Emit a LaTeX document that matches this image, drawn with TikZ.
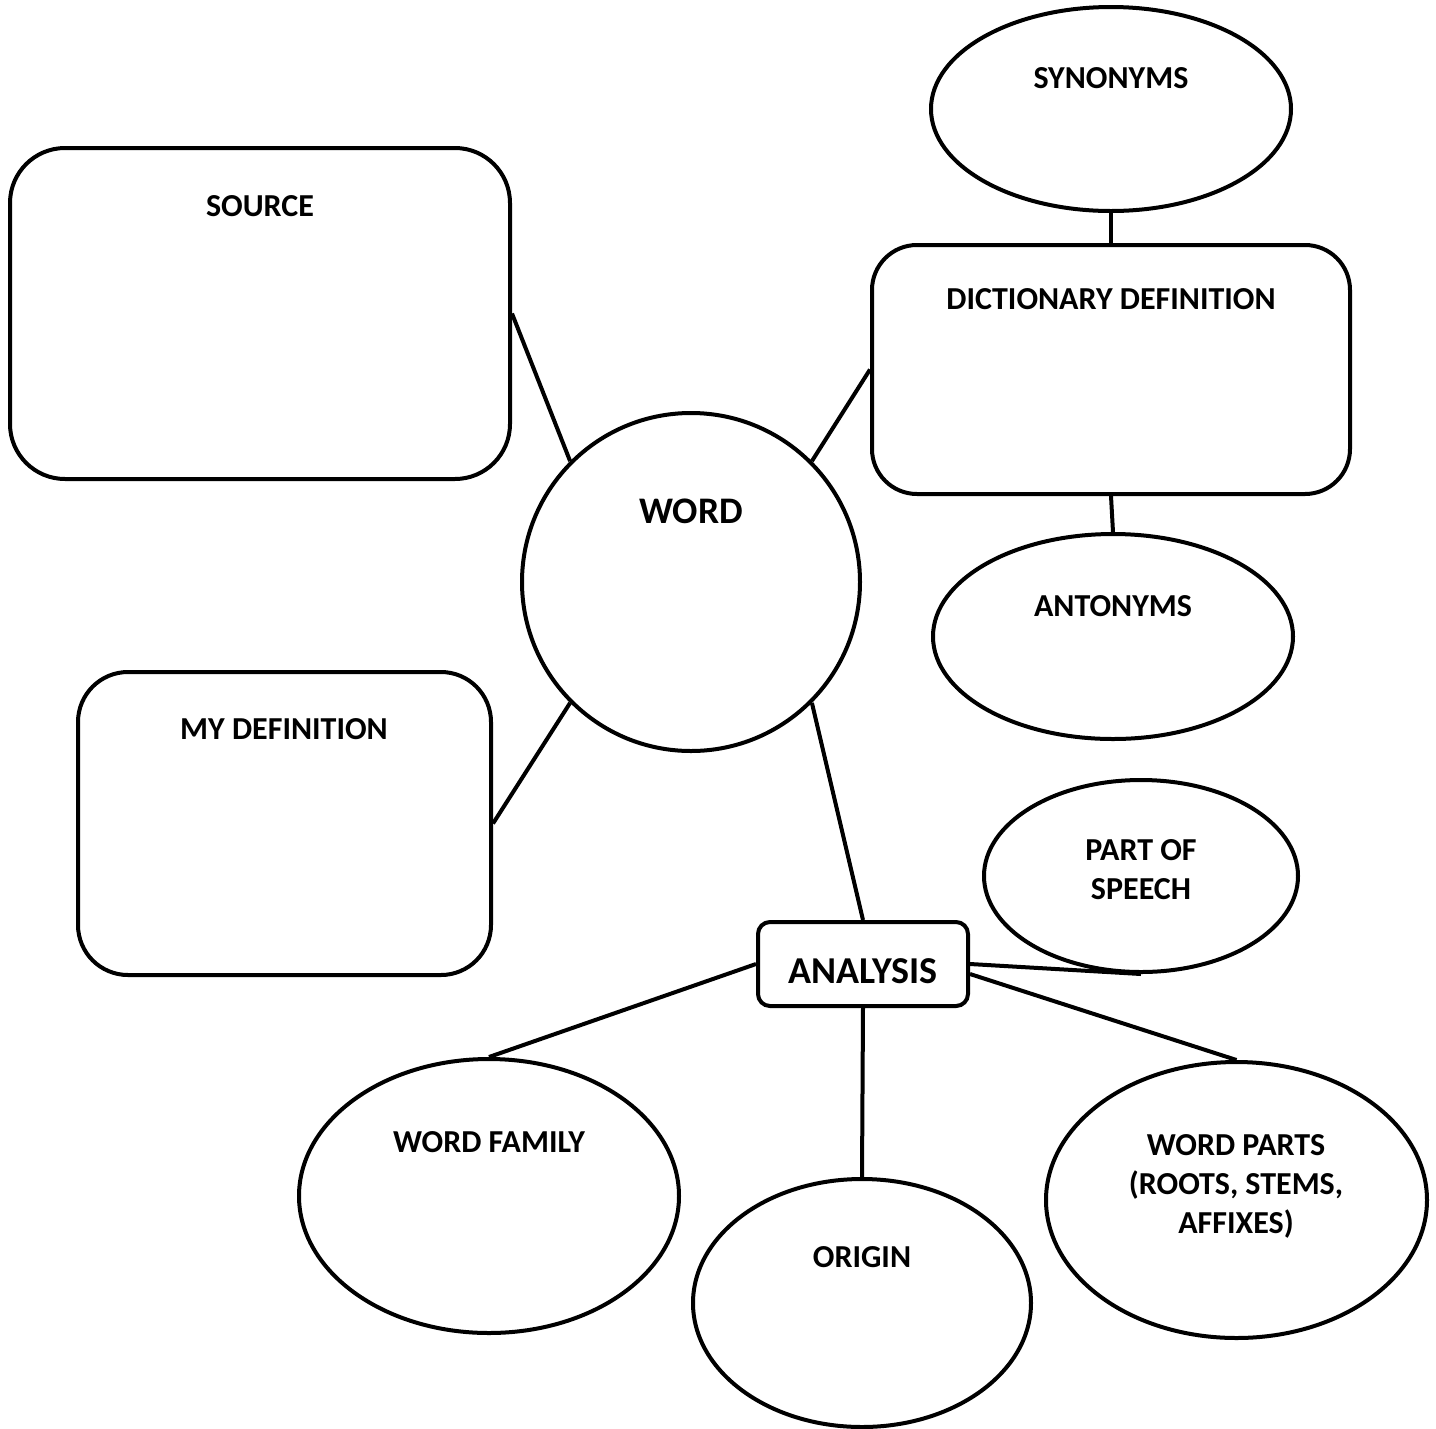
\documentclass[tikz,border=0pt]{standalone}
\usepackage{fontspec}
\setmainfont{Carlito}
\usetikzlibrary{shapes.geometric}
\begin{document}
\begin{tikzpicture}[x=1pt,y=-1pt,
  every path/.style={line width=4pt},
  ell/.style={draw,ellipse,inner sep=0pt,line width=4pt},
  rbox/.style={draw,rectangle,inner sep=0pt,line width=4pt},
  lbl/.style={font=\bfseries\fontsize{32}{39}\selectfont,align=center,inner sep=0pt}]
\useasboundingbox (0,0) rectangle (1436,1428);
% shapes
\node[rbox,rounded corners=55pt,minimum width=500pt,minimum height=331pt] (source) at (260,313.5) {};
\node[ell,minimum width=360pt,minimum height=204pt] (syn) at (1111,109) {};
\node[rbox,rounded corners=45pt,minimum width=478pt,minimum height=249pt] (dict) at (1111,369.5) {};
\node[draw,circle,inner sep=0pt,minimum size=338pt,line width=4pt] (word) at (691,582) {};
\node[ell,minimum width=360pt,minimum height=205pt] (ant) at (1113,636.5) {};
\node[rbox,rounded corners=50pt,minimum width=413pt,minimum height=303pt] (mydef) at (284.5,823.5) {};
\node[ell,minimum width=314pt,minimum height=192pt] (pos) at (1141,876) {};
\node[rbox,rounded corners=12pt,minimum width=210pt,minimum height=84pt] (analysis) at (863,964) {};
\node[ell,minimum width=380pt,minimum height=274pt] (wf) at (489,1196) {};
\node[ell,minimum width=338pt,minimum height=248pt] (origin) at (862,1303) {};
\node[ell,minimum width=381pt,minimum height=276pt] (wp) at (1236.5,1200) {};
% labels
\node[lbl] (lsource) at (260,206) {SOURCE};
\node[lbl] (lsyn) at (1111,78) {SYNONYMS};
\node[lbl] (ldict) at (1111,299) {DICTIONARY DEFINITION};
\node[lbl,font=\bfseries\fontsize{37.5}{44}\selectfont] (lword) at (691,511) {WORD};
\node[lbl] (lant) at (1113,606) {ANTONYMS};
\node[lbl] (lmydef) at (284,729) {MY DEFINITION};
\node[lbl] (lpos) at (1141,870) {PART OF\\SPEECH};
\node[lbl,font=\bfseries\fontsize{38}{44}\selectfont] (lanalysis) at (863,971) {ANALYSIS};
\node[lbl] (lwf) at (489,1142) {WORD FAMILY};
\node[lbl] (lorigin) at (862,1257) {ORIGIN};
\node[lbl] (lwp) at (1236,1186) {WORD PARTS\\(ROOTS, STEMS,\\AFFIXES)};
% connectors
\draw (source.east) -- (word.135);
\draw (dict.west) -- (word.45);
\draw (mydef.east) -- (word.225);
\draw (syn.south) -- (dict.north);
\draw (dict.south) -- (ant.north);
\draw (word.315) -- (analysis.north);
\draw (analysis.west) -- (wf.north);
\draw (analysis.south) -- (origin.north);
\draw ([yshift=-10pt]analysis.east) -- (wp.north);
\draw (analysis.east) -- (pos.south);
\end{tikzpicture}
\end{document}
